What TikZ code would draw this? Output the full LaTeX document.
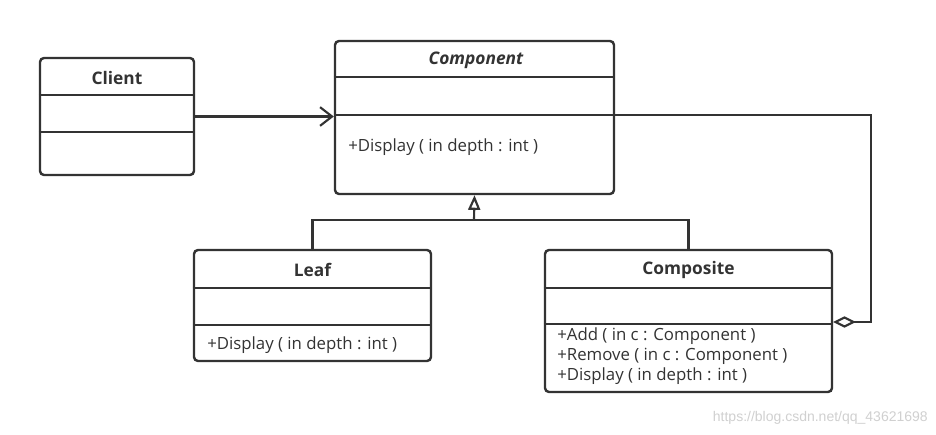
\documentclass[tikz,border=0pt]{standalone}
\usepackage{fontspec}
\setmainfont{Open Sans}
\newfontfamily\wmfont{Liberation Sans}
\usetikzlibrary{arrows.meta}
\definecolor{dc}{HTML}{333333}
\definecolor{wm}{HTML}{D0D0D0}
\tikzset{
  cls/.style={draw=dc, line width=1.8pt, rounded corners=3pt, fill=white, inner sep=0pt},
  sep/.style={draw=dc, line width=1.8pt},
  conn/.style={draw=dc, line width=1.6pt},
  title/.style={font=\fontsize{13pt}{15pt}\selectfont\bfseries, text=dc, inner sep=0pt},
  member/.style={font=\fontsize{12.6pt}{15pt}\selectfont, text=dc, inner sep=0pt, anchor=west, align=left},
}
\begin{document}
\begin{tikzpicture}[x=0.75pt,y=-0.75pt]
\useasboundingbox (0,0) rectangle (936,435);
\fill[white] (0,0) rectangle (936,435);
% boxes
\node[cls, minimum width={154*0.75pt}, minimum height={117*0.75pt}] (client) at (117,116.5) {};
\node[cls, minimum width={279*0.75pt}, minimum height={153*0.75pt}] (comp) at (474.5,117.5) {};
\node[cls, minimum width={237*0.75pt}, minimum height={111*0.75pt}] (leaf) at (312.5,305.5) {};
\node[cls, minimum width={287*0.75pt}, minimum height={142*0.75pt}] (cmps) at (688.5,321) {};
% separators
\draw[sep] (client.west |- 0,95) -- (client.east |- 0,95);
\draw[sep] (client.west |- 0,132) -- (client.east |- 0,132);
\draw[sep] (comp.west |- 0,77) -- (comp.east |- 0,77);
\draw[sep] (comp.west |- 0,115) -- (comp.east |- 0,115);
\draw[sep] (leaf.west |- 0,288) -- (leaf.east |- 0,288);
\draw[sep] (leaf.west |- 0,325) -- (leaf.east |- 0,325);
\draw[sep] (cmps.west |- 0,288) -- (cmps.east |- 0,288);
\draw[sep] (cmps.west |- 0,324) -- (cmps.east |- 0,324);
% titles
\node[title] (tclient) at (117,78) {Client};
\node[title, font=\fontsize{13pt}{15pt}\selectfont\bfseries\itshape] (tcomp) at (476,60) {Component};
\node[title] (tleaf) at (312.5,270) {Leaf};
\node[title] (tcmps) at (688.5,270) {Composite};
% members
\node[member] (mcomp) at (348,147) {+Display ( in depth : int )};
\node[member] (mleaf) at (207,345) {+Display ( in depth : int )};
\node[member] (m1) at (557,336) {+Add ( in c : Component )};
\node[member] (m2) at (557,356) {+Remove ( in c : Component )};
\node[member] (m3) at (557,376) {+Display ( in depth : int )};
% connectors
\draw[conn, -{Straight Barb[length=9pt, width=14pt, line width=1.6pt]}] (client.east) -- (client.east -| comp.west);
\coordinate (j) at (474,220);
\draw[conn] (leaf.north) |- (j) -| (cmps.north);
\draw[conn, -{Triangle[open, length=11pt, width=9pt, line width=1.6pt]}] (j) -- (comp.south);
\coordinate (r1) at (871,115);
\coordinate (r2) at (871,322);
\draw[conn, {Diamond[open, length=17pt, width=8.5pt, line width=1.6pt]}-] (cmps.east |- r2) -- (r2) -- (r1) -- (comp.east |- r1);
% watermark
\node[font=\wmfont\fontsize{10.5pt}{12pt}\selectfont, text=wm, anchor=east, inner sep=0pt] (wmark) at (928,418) {https://blog.csdn.net/qq\_43621698};
\end{tikzpicture}
\end{document}
